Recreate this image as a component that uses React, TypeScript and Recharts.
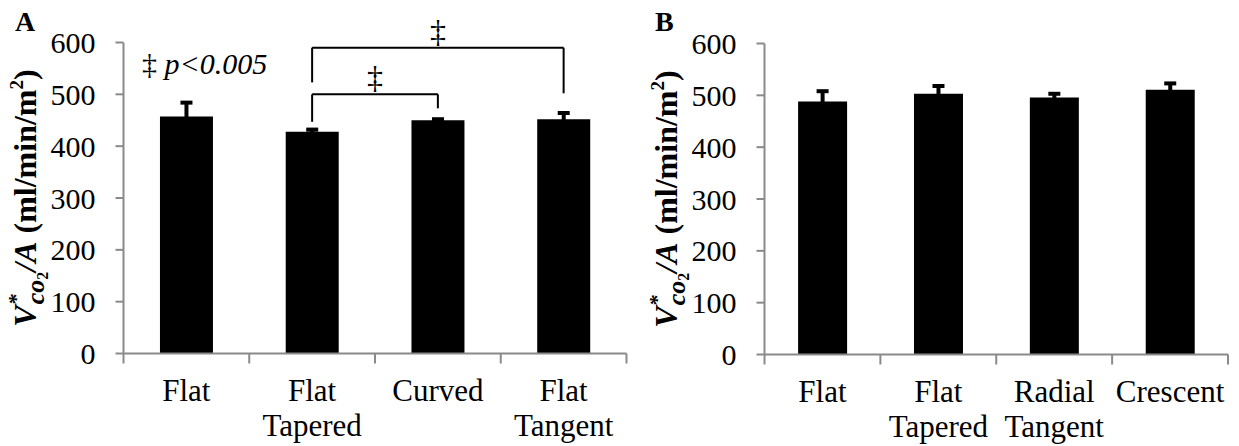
import { BarChart, Bar, XAxis, YAxis, ErrorBar, ReferenceLine } from 'recharts';

const SERIF = '"Liberation Serif", "Times New Roman", serif';
const AXIS = '#8a8a8a';

// panel A
const categoriesA = ['Flat', 'Flat\nTapered', 'Curved', 'Flat\nTangent'];
const valuesA = [457, 428, 450, 452];
const errorsA = [27, 4, 2, 12];

// panel B
const categoriesB = ['Flat', 'Flat\nTapered', 'Radial\nTangent', 'Crescent'];
const valuesB = [488, 503, 496, 511];
const errorsB = [20, 15, 7, 12];

const yTicks = [0, 100, 200, 300, 400, 500, 600];

// significance brackets in panel A
const bracketFrom = ['Flat\nTapered', 'Flat\nTapered'];
const bracketTo = ['Curved', 'Flat\nTangent'];
const bracketTop = [500, 590];
const bracketLeftEnd = [447, 523];
const bracketRightEnd = [473, 502];

function CategoryTick(props: any) {
  const { x, y, payload, index, visibleTicksCount, width } = props;
  const band = width / visibleTicksCount;
  const lines = String(payload.value).split('\n');
  const last = index === visibleTicksCount - 1;
  return (
    <g>
      <line x1={x - band / 2} x2={x - band / 2} y1={y} y2={y + 10} stroke={AXIS} strokeWidth={2} />
      {last && <line x1={x + band / 2} x2={x + band / 2} y1={y} y2={y + 10} stroke={AXIS} strokeWidth={2} />}
      <text textAnchor="middle" fontFamily={SERIF} fontSize={31} fill="#000">
        {lines.map((l, i) => (
          <tspan key={i} x={x} y={y + 47 + i * 35}>{l}</tspan>
        ))}
      </text>
    </g>
  );
}

function YTitle(props: any) {
  const vb = props.viewBox || { x: 0, y: 0, width: 0, height: 0 };
  const cx = vb.x + 36;
  const cy = vb.y + vb.height / 2;
  return (
    <text
      x={cx}
      y={cy}
      transform={`rotate(-90 ${cx} ${cy})`}
      textAnchor="middle"
      fontFamily={SERIF}
      fontWeight="bold"
      fontSize={32}
      fill="#000"
    >
      <tspan fontStyle="italic">V</tspan>
      <tspan fontStyle="italic" fontSize={22} dy={-13}>*</tspan>
      <tspan fontStyle="italic" fontSize={26} dx={-10} dy={21}>co</tspan>
      <tspan fontSize={16} dy={4}>2</tspan>
      <tspan fontStyle="italic" dy={-12}>/A</tspan>
      <tspan> (ml/min/m</tspan>
      <tspan fontSize={19} dy={-13}>2</tspan>
      <tspan dy={13}>)</tspan>
    </text>
  );
}

function Panel({ data, width, margin, children }: any) {
  return (
    <BarChart width={width} height={446} data={data} margin={margin} barCategoryGap="29%">
      <XAxis
        dataKey="name"
        height={60}
        interval={0}
        tick={<CategoryTick />}
        tickLine={false}
        tickSize={0}
        tickMargin={0}
        axisLine={{ stroke: AXIS, strokeWidth: 2 }}
      />
      <YAxis
        width={123.5}
        domain={[0, 600]}
        ticks={yTicks}
        interval={0}
        tickSize={8}
        tickMargin={20}
        tickLine={{ stroke: AXIS, strokeWidth: 2 }}
        axisLine={{ stroke: AXIS, strokeWidth: 2 }}
        tick={{ fill: '#000', fontSize: 30, fontFamily: SERIF }}
        label={<YTitle />}
      />
      <Bar dataKey="value" fill="#000" isAnimationActive={false}>
        <ErrorBar dataKey="err" direction="y" width={6} strokeWidth={4} stroke="#000" />
      </Bar>
      {children}
    </BarChart>
  );
}

export default function App() {
  const dataA = categoriesA.map((name, i) => ({ name, value: valuesA[i], err: errorsA[i] }));
  const dataB = categoriesB.map((name, i) => ({ name, value: valuesB[i], err: errorsB[i] }));

  const brackets = bracketFrom.flatMap((from, i) => {
    const to = bracketTo[i];
    const top = bracketTop[i];
    const line = { stroke: '#000', strokeWidth: 2 };
    return [
      <ReferenceLine
        key={`h${i}`}
        segment={[{ x: from, y: top }, { x: to, y: top }]}
        {...line}
        label={{ value: '‡', position: 'top', offset: 6, fill: '#000', fontSize: 32, fontFamily: SERIF }}
      />,
      <ReferenceLine key={`l${i}`} segment={[{ x: from, y: top }, { x: from, y: bracketLeftEnd[i] }]} {...line} />,
      <ReferenceLine key={`r${i}`} segment={[{ x: to, y: top }, { x: to, y: bracketRightEnd[i] }]} {...line} />,
    ];
  });

  return (
    <div style={{ position: 'absolute', left: 0, top: 0, width: 1239, height: 446, background: '#fff' }}>
      <div style={{ position: 'absolute', left: 0, top: 0 }}>
        <Panel data={dataA} width={640} margin={{ top: 42.5, right: 13.5, bottom: 32.5, left: 0 }}>
          {brackets}
        </Panel>
      </div>
      <div style={{ position: 'absolute', left: 641, top: 0 }}>
        <Panel data={dataB} width={598} margin={{ top: 43.5, right: 11, bottom: 31.5, left: 0 }} />
      </div>
      <svg width={1239} height={446} style={{ position: 'absolute', left: 0, top: 0, pointerEvents: 'none' }}>
        <text x={15} y={31} fontFamily={SERIF} fontWeight="bold" fontSize={28} fill="#000">A</text>
        <text x={655} y={31} fontFamily={SERIF} fontWeight="bold" fontSize={28} fill="#000">B</text>
        <text x={142} y={74} fontFamily={SERIF} fontSize={30} fill="#000">
          ‡<tspan fontStyle="italic"> p&lt;0.005</tspan>
        </text>
      </svg>
    </div>
  );
}
